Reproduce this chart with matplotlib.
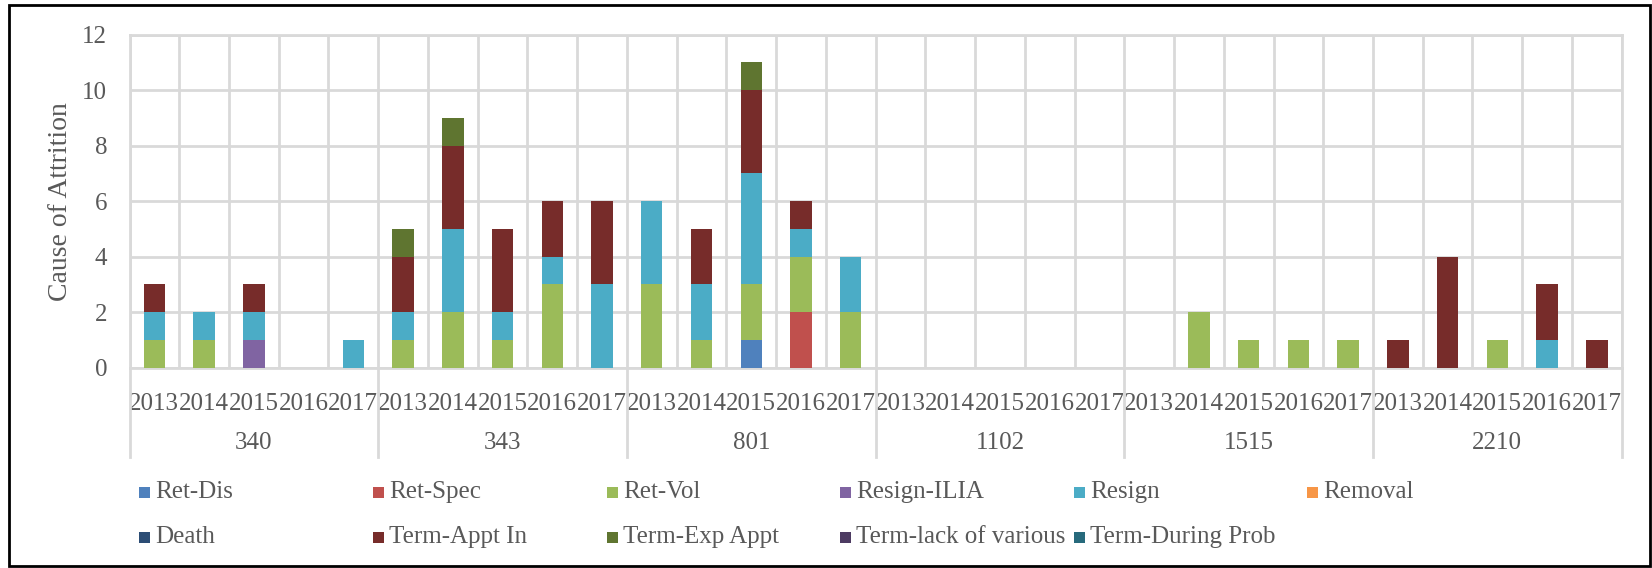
import matplotlib
matplotlib.use("Agg")
import matplotlib.pyplot as plt
import numpy as np
from matplotlib.patches import Rectangle
from matplotlib.lines import Line2D

groups = ["340", "343", "801", "1102", "1515", "2210"]
years = ["2013", "2014", "2015", "2016", "2017"]

series_names = ["Ret-Dis", "Ret-Spec", "Ret-Vol", "Resign-ILIA", "Resign", "Removal",
                "Death", "Term-Appt In", "Term-Exp Appt", "Term-lack of various", "Term-During Prob"]
colors = ["#4F81BD", "#C0504D", "#9BBB59", "#8064A2", "#4BACC6", "#F79646",
          "#2C4D75", "#772C2A", "#5F7530", "#4D3B62", "#276A7C"]

# values per category (6 groups x 5 years = 30 categories)
ret_dis = [0, 0, 0, 0, 0,  0, 0, 0, 0, 0,  0, 0, 1, 0, 0,  0, 0, 0, 0, 0,  0, 0, 0, 0, 0,  0, 0, 0, 0, 0]
ret_spec = [0, 0, 0, 0, 0,  0, 0, 0, 0, 0,  0, 0, 0, 2, 0,  0, 0, 0, 0, 0,  0, 0, 0, 0, 0,  0, 0, 0, 0, 0]
ret_vol = [1, 1, 0, 0, 0,  1, 2, 1, 3, 0,  3, 1, 2, 2, 2,  0, 0, 0, 0, 0,  0, 2, 1, 1, 1,  0, 0, 1, 0, 0]
resign_ilia = [0, 0, 1, 0, 0,  0, 0, 0, 0, 0,  0, 0, 0, 0, 0,  0, 0, 0, 0, 0,  0, 0, 0, 0, 0,  0, 0, 0, 0, 0]
resign = [1, 1, 1, 0, 1,  1, 3, 1, 1, 3,  3, 2, 4, 1, 2,  0, 0, 0, 0, 0,  0, 0, 0, 0, 0,  0, 0, 0, 1, 0]
removal = [0] * 30
death = [0] * 30
term_appt_in = [1, 0, 1, 0, 0,  2, 3, 3, 2, 3,  0, 2, 3, 1, 0,  0, 0, 0, 0, 0,  0, 0, 0, 0, 0,  1, 4, 0, 2, 1]
term_exp_appt = [0, 0, 0, 0, 0,  1, 1, 0, 0, 0,  0, 0, 1, 0, 0,  0, 0, 0, 0, 0,  0, 0, 0, 0, 0,  0, 0, 0, 0, 0]
term_lack = [0] * 30
term_prob = [0] * 30

series_values = [ret_dis, ret_spec, ret_vol, resign_ilia, resign, removal,
                 death, term_appt_in, term_exp_appt, term_lack, term_prob]

plt.rcParams['font.family'] = ['Liberation Serif', 'DejaVu Serif']
txt = "#595959"
grid_c = "#D9D9D9"
fs = 18

W, H = 1652, 568
fig = plt.figure(figsize=(W / 100, H / 100), dpi=100)
ax = fig.add_axes([129.5 / W, 1 - 367.7 / H, (1621.7 - 129.5) / W, (367.7 - 34.6) / H])

n = len(groups) * len(years)
x = np.arange(n)
bottom = np.zeros(n)
for name, col, vals in zip(series_names, colors, series_values):
    v = np.array(vals, dtype=float)
    ax.bar(x, v, width=0.43, bottom=bottom, color=col, zorder=3, label=name)
    bottom += v

ax.set_xlim(-0.5, n - 0.5)
ax.set_ylim(0, 12)
ax.set_yticks(np.arange(0, 13, 2))
ax.set_xticks(x)
ax.set_xticklabels(years * len(groups), fontsize=fs, color=txt)
ax.set_xticks(np.arange(-0.5, n, 1), minor=True)
ax.tick_params(axis='x', which='both', length=0, pad=18)
ax.tick_params(axis='y', length=0, pad=16, labelsize=fs, labelcolor=txt)
ax.grid(True, axis='y', which='major', color=grid_c, lw=2, zorder=0)
ax.grid(True, axis='x', which='minor', color=grid_c, lw=2, zorder=0)
for s in ax.spines.values():
    s.set_color(grid_c)
    s.set_linewidth(2)
ax.set_ylabel("Cause of Attrition", fontsize=20, color=txt, labelpad=7)

# group separators & labels below the axis
trans = ax.get_xaxis_transform()
ax_h_px = 367.7 - 34.6
sep_bottom = -(457 - 367.7) / ax_h_px
lab_y = -(443 - 367.7) / ax_h_px
for gi, g in enumerate(groups):
    left = gi * len(years) - 0.5
    ax.add_line(Line2D([left, left], [0, sep_bottom], transform=trans, color=grid_c, lw=2, clip_on=False))
    ax.text(left + len(years) / 2, lab_y, g, transform=trans, ha='center', va='center', fontsize=fs, color=txt)
ax.add_line(Line2D([n - 0.5, n - 0.5], [0, sep_bottom], transform=trans, color=grid_c, lw=2, clip_on=False))

# legend (manual, row-major, 6 columns)
col_x = [139, 373, 607, 840, 1074, 1307]
row_y = [492, 537]
msz = 11
for i, (name, col) in enumerate(zip(series_names, colors)):
    r, c = divmod(i, 6)
    mx, my = col_x[c], row_y[r]
    fig.patches.append(Rectangle((mx / W, 1 - (my + msz / 2) / H), msz / W, msz / H,
                                 transform=fig.transFigure, facecolor=col, edgecolor='none'))
    fig.text((mx + msz + 5) / W, 1 - my / H, name, ha='left', va='center', fontsize=fs, color=txt)

# outer border
fig.patches.append(Rectangle((9 / W, 2 / H), (1650 - 9) / W, (563 - 2) / H, transform=fig.transFigure,
                             fill=False, edgecolor='black', lw=2))

fig.savefig("out.png", dpi=100)
